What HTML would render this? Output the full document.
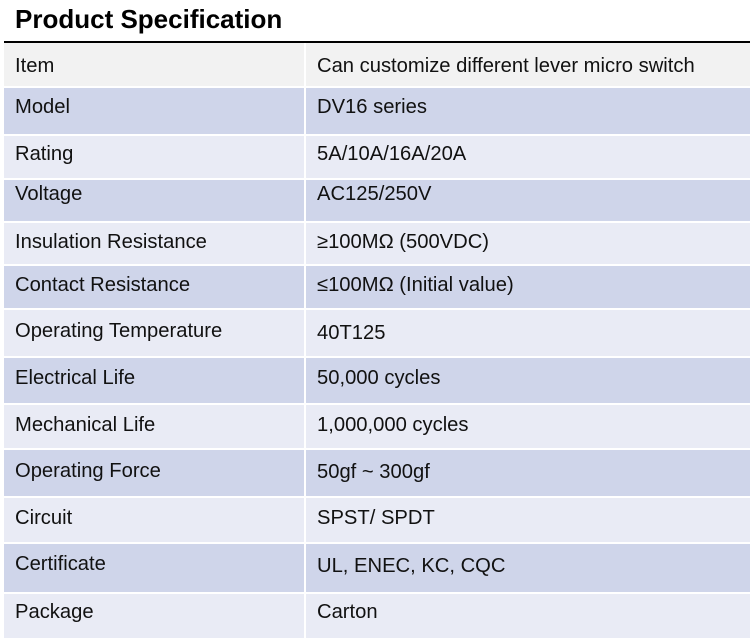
<!DOCTYPE html><html><head><style>
body{margin:0;width:754px;height:644px;background:#fff;font-family:"Liberation Sans",sans-serif;position:relative;overflow:hidden}
h1{position:absolute;left:15px;top:4px;margin:0;font-size:26px;font-weight:bold;color:#000}
.line{position:absolute;left:4px;top:41px;width:746px;height:2px;background:#000}
.c{position:absolute;font-size:20.2px;color:#111;box-sizing:border-box;padding-top:10px;border-top:2px solid transparent;background-clip:border-box}
.l{left:4px;width:300px;padding-left:11px}
.r{left:306px;width:444px;padding-left:11px}
.h{background:#f2f2f2}.d{background:#cfd5ea}.w{background:#e9ebf5}
.h{border-top-color:#f2f2f2}.d{border-top-color:#cfd5ea}.w{border-top-color:#e9ebf5}
</style></head><body>
<h1>Product Specification</h1><div class="line"></div>
<div class="c l h" style="top:43px;height:43px">Item</div><div class="c r h" style="top:43px;height:43px">Can customize different lever micro switch</div>
<div class="c l d" style="top:88px;height:46px;padding-top:6px">Model</div><div class="c r d" style="top:88px;height:46px;padding-top:6px">DV16 series</div>
<div class="c l w" style="top:136px;height:42px;padding-top:5px">Rating</div><div class="c r w" style="top:136px;height:42px;padding-top:5px">5A/10A/16A/20A</div>
<div class="c l d" style="top:180px;height:41px;padding-top:1px">Voltage</div><div class="c r d" style="top:180px;height:41px;padding-top:1px">AC125/250V</div>
<div class="c l w" style="top:223px;height:41px;padding-top:6px">Insulation Resistance</div><div class="c r w" style="top:223px;height:41px;padding-top:6px">≥100MΩ (500VDC)</div>
<div class="c l d" style="top:266px;height:42px;padding-top:6px">Contact Resistance</div><div class="c r d" style="top:266px;height:42px;padding-top:6px">≤100MΩ (Initial value)</div>
<div class="c l w" style="top:310px;height:46px;padding-top:8px">Operating Temperature</div><div class="c r w" style="top:310px;height:46px;padding-top:10px">40T125</div>
<div class="c l d" style="top:358px;height:45px;padding-top:7px">Electrical Life</div><div class="c r d" style="top:358px;height:45px;padding-top:7px">50,000 cycles</div>
<div class="c l w" style="top:405px;height:43px;padding-top:7px">Mechanical Life</div><div class="c r w" style="top:405px;height:43px;padding-top:7px">1,000,000 cycles</div>
<div class="c l d" style="top:450px;height:46px;padding-top:8px">Operating Force</div><div class="c r d" style="top:450px;height:46px;padding-top:9px">50gf ~ 300gf</div>
<div class="c l w" style="top:498px;height:44px;padding-top:7px">Circuit</div><div class="c r w" style="top:498px;height:44px;padding-top:7px">SPST/ SPDT</div>
<div class="c l d" style="top:544px;height:48px;padding-top:7px">Certificate</div><div class="c r d" style="top:544px;height:48px;padding-top:9px">UL, ENEC, KC, CQC</div>
<div class="c l w" style="top:594px;height:44px;padding-top:5px">Package</div><div class="c r w" style="top:594px;height:44px;padding-top:5px">Carton</div>
</body></html>
